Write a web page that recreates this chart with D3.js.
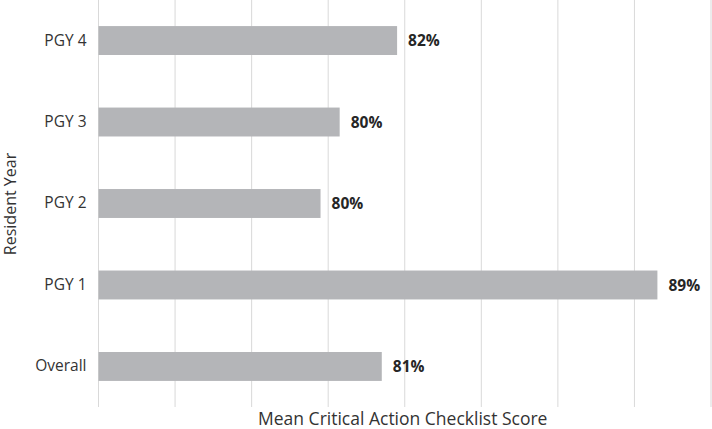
<!DOCTYPE html>
<html>
<head>
<meta charset="utf-8">
<script src="https://cdn.jsdelivr.net/npm/d3@7"></script>
<style>
  body { margin: 0; background: #fff; }
  svg { display: block; font-family: "Open Sans", sans-serif; }
</style>
</head>
<body>
<svg width="712" height="429"></svg>
<script>
// categories top to bottom, mean scores (%)
var categories = ["PGY 4", "PGY 3", "PGY 2", "PGY 1", "Overall"];
var scores = [81.8, 80.3, 79.8, 88.6, 81.4];
var gridTicks = [74, 76, 78, 80, 82, 84, 86, 88, 90];

var svg = d3.select("svg"),
    margin = { top: 0, right: 1, bottom: 22, left: 98.5 },
    width = +svg.attr("width") - margin.left - margin.right,
    height = +svg.attr("height") - margin.top - margin.bottom;

var data = categories.map(function(c, i) { return { cat: c, val: scores[i] }; });

var x = d3.scaleLinear().domain([74, 90]).range([0, width]);
var y = d3.scaleBand().domain(categories).range([0, height]).paddingInner(0.645).paddingOuter(0.32);

var g = svg.append("g")
    .attr("transform", "translate(" + margin.left + "," + margin.top + ")");

// vertical gridlines
g.selectAll(".grid")
    .data(gridTicks)
    .enter().append("line")
    .attr("class", "grid")
    .attr("x1", function(d) { return x(d); })
    .attr("x2", function(d) { return x(d); })
    .attr("y1", 0)
    .attr("y2", height)
    .attr("stroke", "#d9d9d9")
    .attr("stroke-width", 1);

// bars
g.selectAll(".bar")
    .data(data)
    .enter().append("rect")
    .attr("class", "bar")
    .attr("x", x(74))
    .attr("y", function(d) { return y(d.cat); })
    .attr("width", function(d) { return x(d.val) - x(74); })
    .attr("height", y.bandwidth())
    .attr("fill", "#b4b5b8");

// value labels
g.selectAll(".lbl")
    .data(data)
    .enter().append("text")
    .attr("class", "lbl")
    .attr("x", function(d) { return x(d.val) + 11; })
    .attr("y", function(d) { return y(d.cat) + y.bandwidth() / 2; })
    .attr("dy", "0.36em")
    .attr("font-size", 15.5)
    .attr("font-weight", "bold")
    .attr("fill", "#262626")
    .text(function(d) { return d3.format(".0f")(d.val) + "%"; });

// category axis
var yAxis = d3.axisLeft(y).tickSize(0).tickPadding(12);
var ya = g.append("g")
    .attr("class", "axis")
    .call(yAxis)
    .attr("font-size", 15.5)
    .attr("font-family", "Open Sans, sans-serif");
ya.select(".domain").remove();
ya.selectAll("text").attr("fill", "#333");

// axis titles
svg.append("text")
    .attr("x", margin.left + width / 2 - 2)
    .attr("y", 425)
    .attr("text-anchor", "middle")
    .attr("font-size", 17.5)
    .attr("fill", "#333")
    .text("Mean Critical Action Checklist Score");

svg.append("text")
    .attr("transform", "translate(16," + 204 + ") rotate(-90)")
    .attr("text-anchor", "middle")
    .attr("font-size", 16)
    .attr("fill", "#333")
    .text("Resident Year");
</script>
</body>
</html>
